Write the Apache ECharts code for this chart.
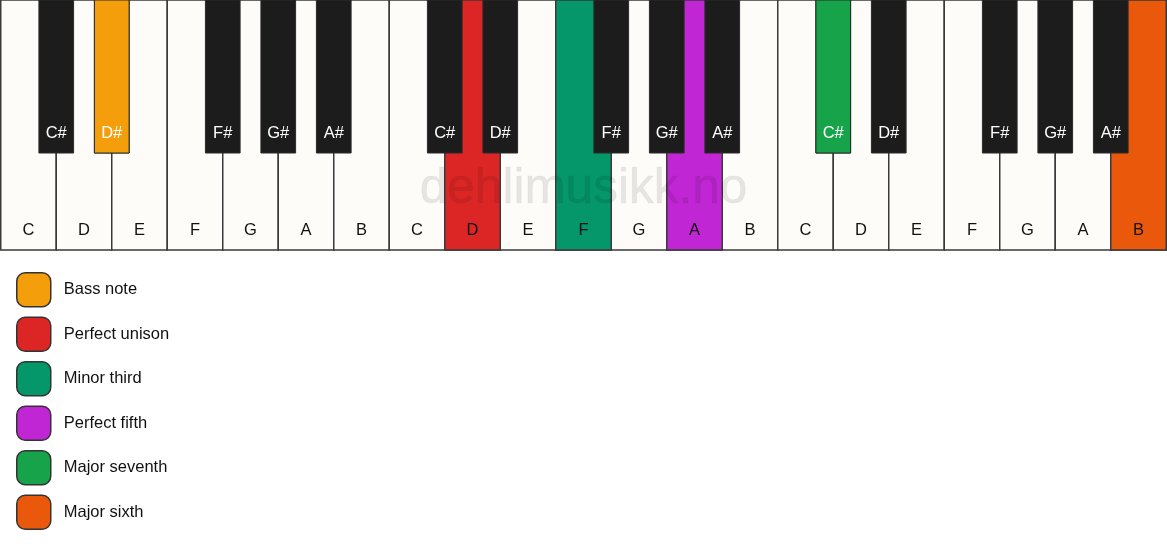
<!DOCTYPE html>
<html>
<head>
<meta charset="utf-8">
<script src="https://cdn.jsdelivr.net/npm/echarts@6/dist/echarts.min.js"></script>
<style>
  html, body { margin: 0; padding: 0; background: #fff; }
  #chart { width: 1167px; height: 550px; }
</style>
</head>
<body>
<div id="chart"></div>
<script>
const chart = echarts.init(document.getElementById('chart'));

// keyboard content
const chromatic = ['C', 'C#', 'D', 'D#', 'E', 'F', 'F#', 'G', 'G#', 'A', 'A#', 'B'];
const whiteNotes = ['C', 'D', 'E', 'F', 'G', 'A', 'B'];
const octaves = 3;

// highlighted keys (legend order)
const intervals = ['Bass note', 'Perfect unison', 'Minor third', 'Perfect fifth', 'Major seventh', 'Major sixth'];
const intervalNotes = ['D#', 'D', 'F', 'A', 'C#', 'B'];
const intervalOctaves = [0, 1, 1, 1, 2, 2];
const intervalColors = ['#f59e0b', '#dc2626', '#059669', '#c026d3', '#16a34a', '#ea580c'];

const FONT = '"Liberation Sans", Arial, sans-serif';
const BLACK_W = 0.625;   // in white-key units
const WHITE_H = 250;
const BLACK_H = 153;

// key position on the x axis (left edge, in white-key units)
function keyLeft(note, octave) {
  if (note.length === 1) {
    return octave * whiteNotes.length + whiteNotes.indexOf(note);
  }
  const base = note[0];
  return octave * whiteNotes.length + whiteNotes.indexOf(base) + 1 - BLACK_W / 2;
}

const whiteKeys = [], whiteLabels = [];
const blackKeys = [], blackLabels = [];
for (let o = 0; o < octaves; o++) {
  whiteNotes.forEach(n => {
    whiteKeys.push([keyLeft(n, o), 0]);
    whiteLabels.push(n);
    if (chromatic.indexOf(n + '#') >= 0) {
      blackKeys.push([keyLeft(n + '#', o), 1]);
      blackLabels.push(n + '#');
    }
  });
}

function keyRenderer(labels) {
  return function (params, api) {
    const left = api.value(0);
    const isBlack = api.value(1) === 1;
    const w = isBlack ? BLACK_W : 1;
    const h = isBlack ? BLACK_H : WHITE_H;
    const p0 = api.coord([left, 0]);
    const p1 = api.coord([left + w, h]);
    const cx = (p0[0] + p1[0]) / 2;
    return {
      type: 'group',
      children: [
        {
          type: 'rect',
          shape: { x: p0[0], y: p0[1], width: p1[0] - p0[0], height: p1[1] - p0[1] },
          style: { fill: api.visual('color'), stroke: isBlack ? '#2a2a2a' : '#3a3a3a', lineWidth: isBlack ? 1 : 1.5 }
        },
        {
          type: 'text',
          x: cx,
          y: p0[1] + (isBlack ? 133 : 230),
          style: {
            text: labels[params.dataIndex],
            fill: isBlack ? '#ffffff' : '#111111',
            font: '16.5px ' + FONT,
            align: 'center',
            verticalAlign: 'middle'
          }
        }
      ]
    };
  };
}

const series = [
  {
    name: 'white',
    type: 'custom',
    z: 1,
    renderItem: keyRenderer(whiteLabels),
    itemStyle: { color: '#fdfcf8' },
    data: whiteKeys,
    silent: true
  },
  {
    name: 'black',
    type: 'custom',
    z: 3,
    renderItem: keyRenderer(blackLabels),
    itemStyle: { color: '#1c1c1c' },
    data: blackKeys,
    silent: true
  }
];

intervals.forEach((label, i) => {
  const note = intervalNotes[i];
  const isBlack = note.length > 1;
  series.push({
    name: label,
    type: 'custom',
    z: isBlack ? 4 : 2,
    renderItem: keyRenderer([note]),
    itemStyle: { color: intervalColors[i] },
    data: [[keyLeft(note, intervalOctaves[i]), isBlack ? 1 : 0]]
  });
});

const option = {
  animation: false,
  grid: { left: 0.75, right: 0.75, top: 0, height: WHITE_H },
  xAxis: { type: 'value', min: 0, max: octaves * whiteNotes.length, show: false },
  yAxis: { type: 'value', min: 0, max: WHITE_H, inverse: true, show: false },
  legend: {
    data: intervals,
    orient: 'vertical',
    left: 16,
    top: 272,
    padding: 0,
    itemWidth: 34,
    itemHeight: 34,
    itemGap: 9,
    icon: 'roundRect',
    selectedMode: false,
    itemStyle: { borderColor: '#333', borderWidth: 1.5 },
    textStyle: { fontSize: 16.5, color: '#111', fontFamily: FONT, padding: [0, 0, 0, 8] }
  },
  graphic: [
    {
      type: 'text',
      z: 100,
      left: 'center',
      top: 164,
      silent: true,
      style: {
        text: 'dehlimusikk.no',
        font: '49.5px ' + FONT,
        fill: 'rgba(0,0,0,0.09)',
        stroke: 'rgba(0,0,0,0.04)',
        lineWidth: 1
      }
    }
  ],
  series: series
};

chart.setOption(option);
</script>
</body>
</html>
